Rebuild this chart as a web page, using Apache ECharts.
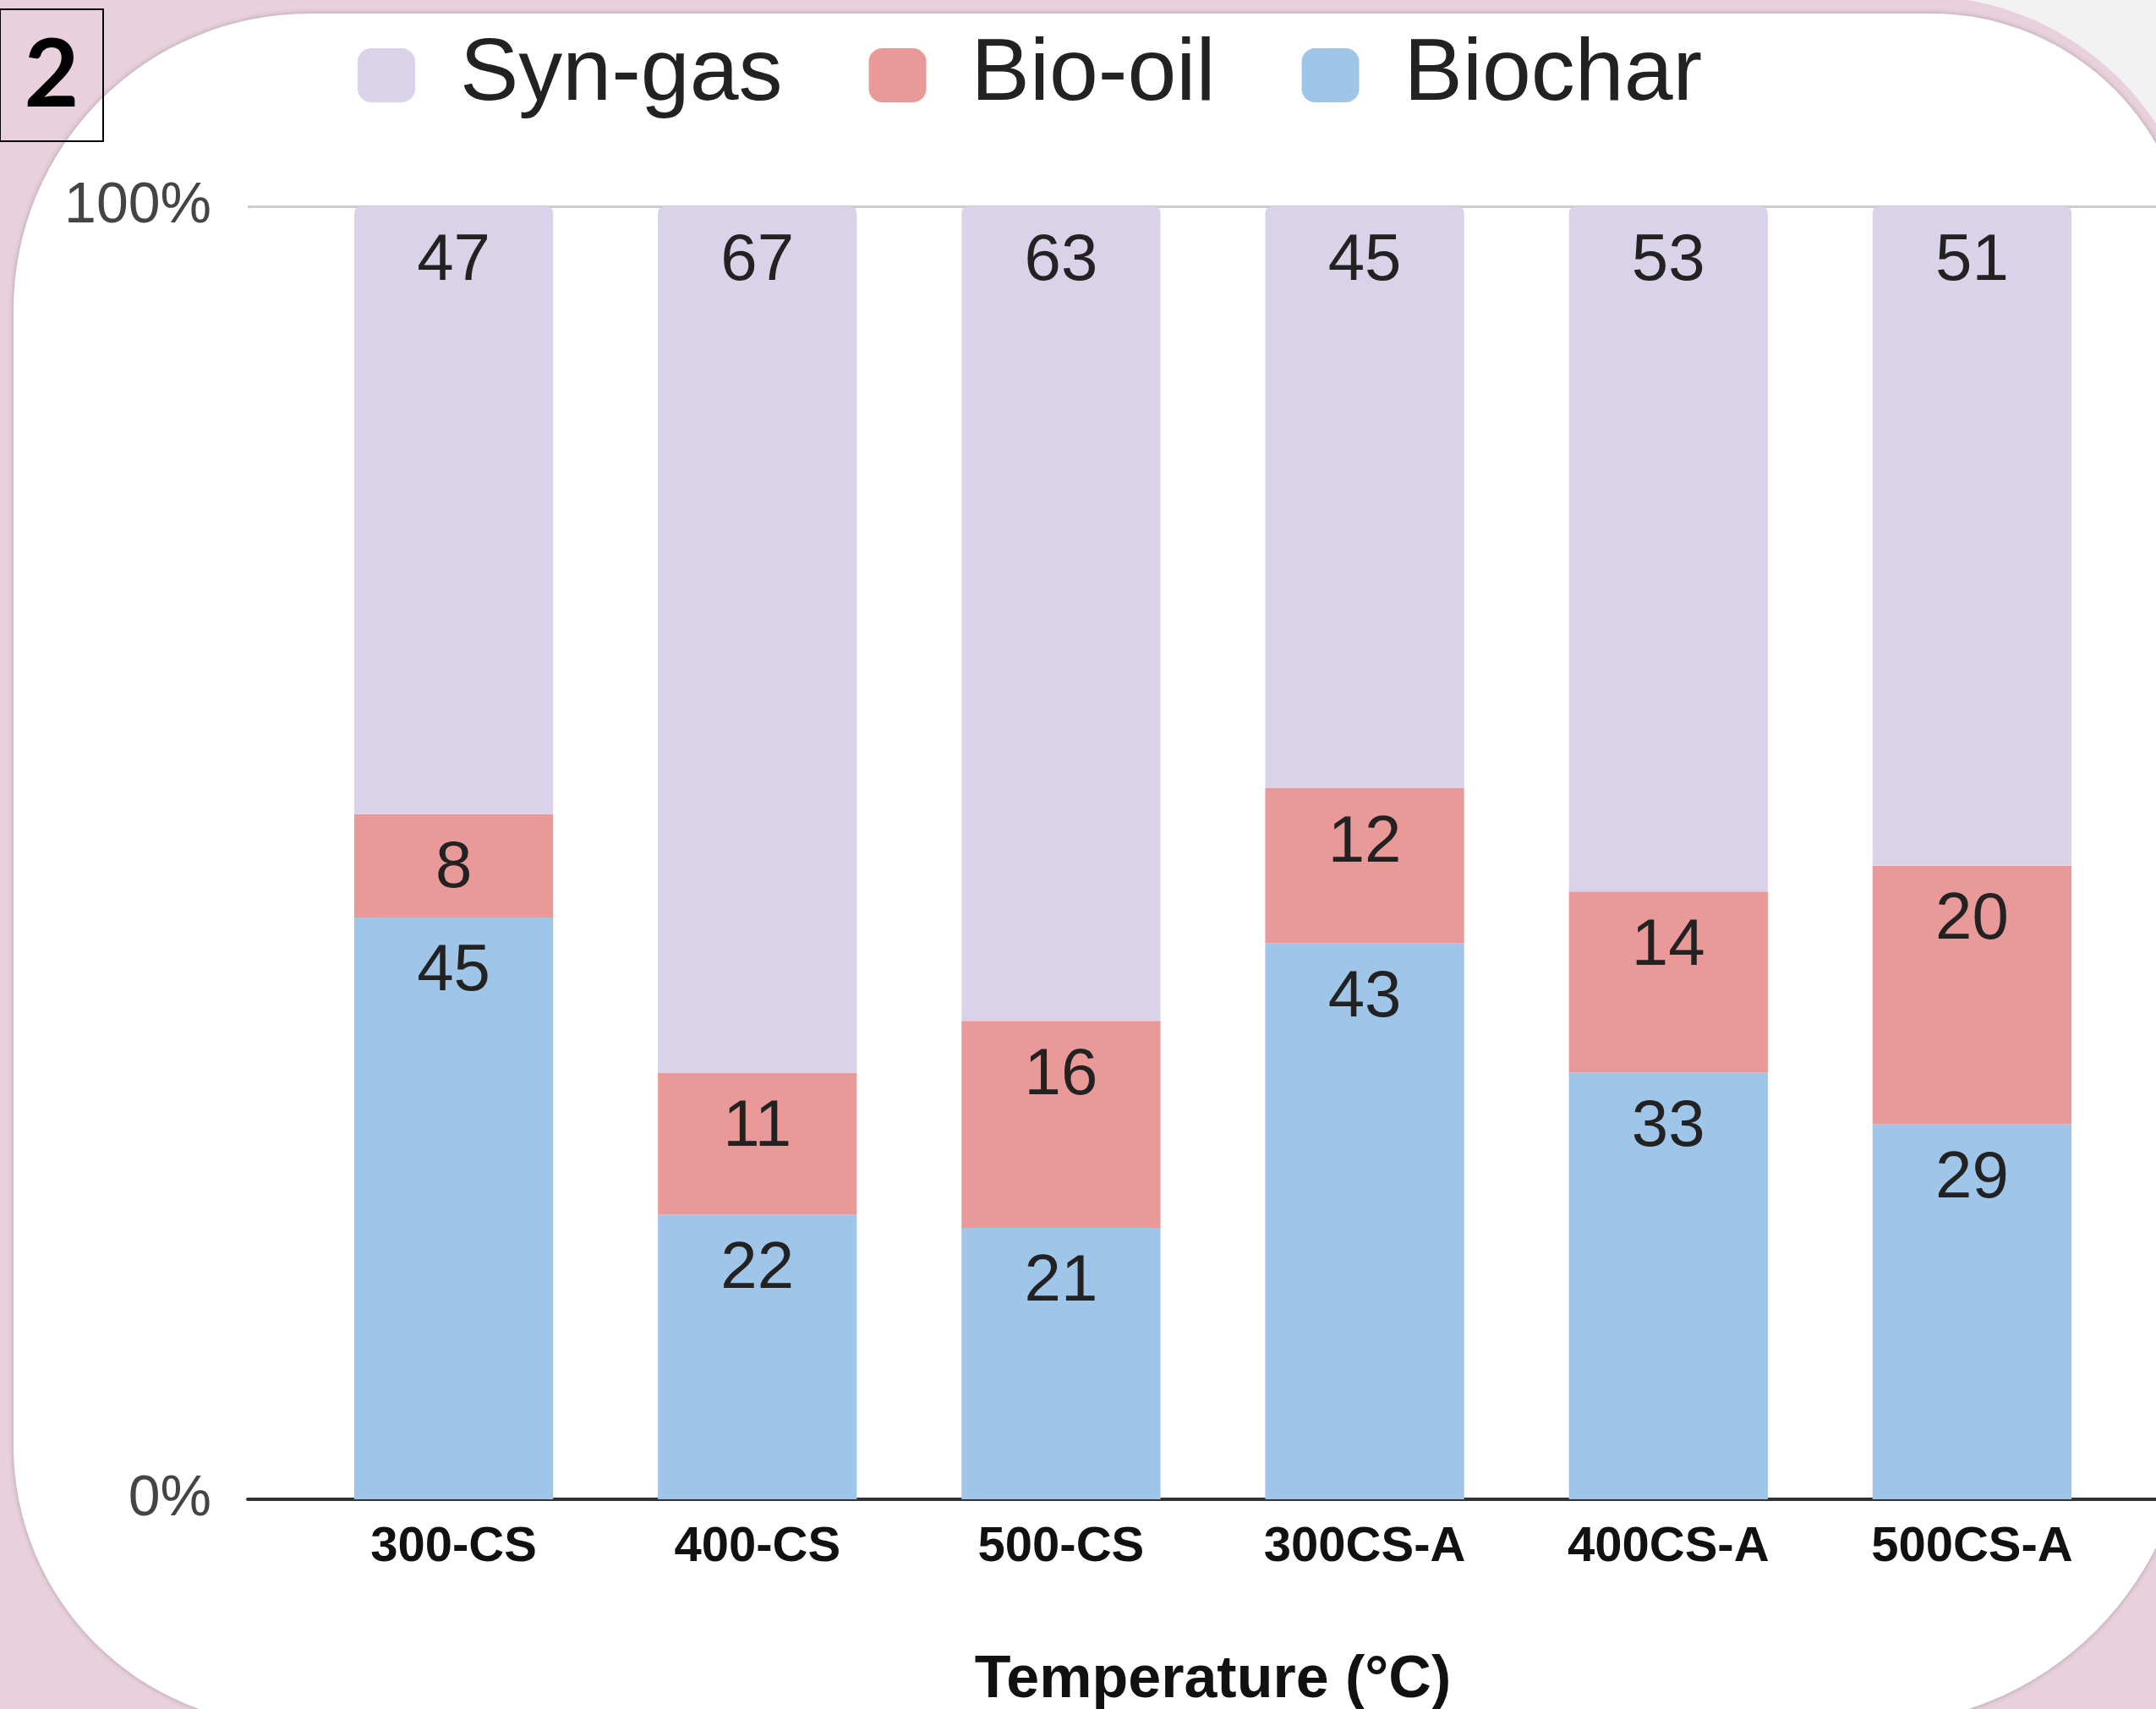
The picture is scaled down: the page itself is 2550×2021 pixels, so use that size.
<!DOCTYPE html>
<html>
<head>
<meta charset="utf-8">
<script src="https://cdn.jsdelivr.net/npm/echarts@6/dist/echarts.min.js"></script>
<style>
  html, body { margin: 0; padding: 0; background: #f2f2f2; }
  #chart { width: 2550px; height: 2021px; }
</style>
</head>
<body>
<div id="chart"></div>
<script>
// pyrolysis product yields, % of feed
var categories = ['300-CS', '400-CS', '500-CS', '300CS-A', '400CS-A', '500CS-A'];
var biochar = [45, 22, 21, 43, 33, 29];
var bioOil = [8, 11, 16, 12, 14, 20];
var synGas = [47, 67, 63, 45, 53, 51];
var yTicks = [0, 100];

var FONT = '"Liberation Sans", Arial, sans-serif';
var chart = echarts.init(document.getElementById('chart'));

function segLabel() {
  return {
    show: true,
    position: 'insideTop',
    distance: 26,
    fontFamily: FONT,
    fontSize: 78,
    color: '#222'
  };
}

chart.setOption({
  animation: false,
  graphic: [
    // slide background: pink panel with white rounded card on top
    { type: 'rect', z: -20, silent: true,
      shape: { x: -60, y: -5, width: 2665, height: 2100, r: [0, 335, 0, 0] },
      style: { fill: '#e8d1dc' } },
    { type: 'rect', z: -10, silent: true,
      shape: { x: 16, y: 16, width: 2574, height: 2024, r: [350, 305, 380, 330] },
      style: { fill: '#ffffff', shadowBlur: 6, shadowColor: 'rgba(0,0,0,0.25)' } },
    { type: 'rect', z: 50, silent: true,
      shape: { x: 0, y: 11, width: 122, height: 156 },
      style: { fill: 'transparent', stroke: '#000', lineWidth: 2 } },
    { type: 'text', z: 51, silent: true, x: 61, y: 90,
      style: { text: '2', fontFamily: 'Lato', fontWeight: 'bold', fontSize: 112,
        fill: '#000', align: 'center', verticalAlign: 'middle' } }
  ],
  legend: {
    left: 418,
    top: 32,
    icon: 'roundRect',
    itemWidth: 68,
    itemHeight: 64,
    itemGap: 102,
    data: ['Syn-gas', 'Bio-oil', 'Biochar'],
    textStyle: { fontFamily: FONT, fontSize: 104, color: '#222', padding: [0, 0, 0, 48] }
  },
  grid: [
    // frame: 0% axis line and 100% gridline run wider than the bars
    { left: 293, right: -20, top: 244, bottom: 248, outerBoundsMode: 'none' },
    { left: 357, right: 38, top: 244, bottom: 248, outerBoundsMode: 'none' }
  ],
  xAxis: [
    { type: 'value', gridIndex: 0, min: 0, max: 1,
      axisLabel: { show: false }, axisTick: { show: false }, splitLine: { show: false },
      axisLine: { show: true, lineStyle: { color: '#333', width: 4 } } },
    { type: 'category', gridIndex: 1, data: categories,
      axisLine: { show: false }, axisTick: { show: false },
      axisLabel: { margin: 28, fontFamily: FONT, fontWeight: 'bold', fontSize: 58, color: '#111' },
      name: 'Temperature (°C)', nameLocation: 'middle', nameGap: 180,
      nameTextStyle: { fontFamily: FONT, fontWeight: 'bold', fontSize: 70, color: '#111' } }
  ],
  yAxis: [
    { type: 'value', gridIndex: 0, min: yTicks[0], max: yTicks[1], interval: 100,
      axisLine: { show: false }, axisTick: { show: false },
      axisLabel: { margin: 43, fontFamily: FONT, fontSize: 68, color: '#444',
        formatter: function (v) { return v + '%'; } },
      splitLine: { lineStyle: { color: '#cccccc', width: 3 } } },
    { type: 'value', gridIndex: 1, min: 0, max: 100, show: false }
  ],
  series: [
    { name: 'Biochar', type: 'bar', stack: 'yield', xAxisIndex: 1, yAxisIndex: 1,
      barCategoryGap: '34.5%', data: biochar,
      itemStyle: { color: '#9fc5e8' }, label: segLabel() },
    { name: 'Bio-oil', type: 'bar', stack: 'yield', xAxisIndex: 1, yAxisIndex: 1,
      data: bioOil, itemStyle: { color: '#ea9999' }, label: segLabel() },
    { name: 'Syn-gas', type: 'bar', stack: 'yield', xAxisIndex: 1, yAxisIndex: 1,
      data: synGas, itemStyle: { color: '#d9d2e9', borderRadius: [8, 8, 0, 0] }, label: segLabel() }
  ]
});
</script>
</body>
</html>
